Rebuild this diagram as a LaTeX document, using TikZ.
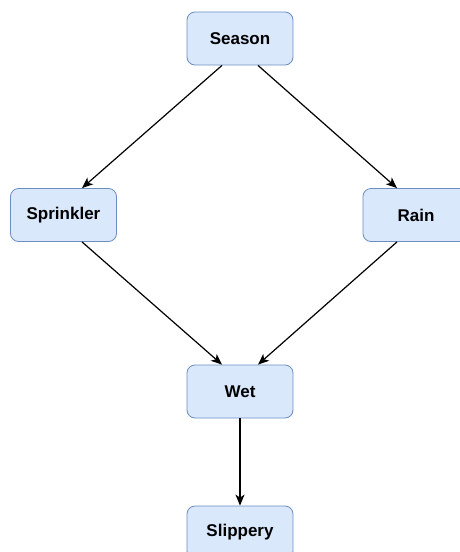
\documentclass[tikz,border=0pt]{standalone}
\usepackage{fontspec}
\setmainfont{Liberation Sans}
\usetikzlibrary{arrows.meta}
\definecolor{boxfill}{HTML}{DAE8FC}
\definecolor{boxline}{HTML}{6C8EBF}
\begin{document}
\begin{tikzpicture}[x=1pt,y=-1pt,
  stepbox/.style={draw=boxline, fill=boxfill, rounded corners=8pt, line width=0.8pt,
    minimum width=106pt, minimum height=53pt, inner sep=0pt,
    font=\fontsize{17}{20}\selectfont\bfseries},
  link/.style={line width=1.2pt, -{Stealth[length=11pt,width=9pt,inset=3pt]}}]
\useasboundingbox (0,0) rectangle (460,552);
\node[stepbox] (season) at (240,38.5) {Season};
\node[stepbox] (sprinkler) at (63.5,215) {Sprinkler};
\node[stepbox] (rain) at (416,215) {Rain};
\node[stepbox] (wet) at (240,391.5) {Wet};
\node[stepbox] (slippery) at (240,532.5) {Slippery};
\draw[link] (season.south) ++(-18,0) -- (sprinkler.north -| 82,0);
\draw[link] (season.south) ++(18,0) -- (rain.north -| 397,0);
\draw[link] (sprinkler.south -| 82,0) -- (wet.north -| 222,0);
\draw[link] (rain.south -| 397,0) -- (wet.north -| 258,0);
\draw[link] (wet) -- (slippery);
\end{tikzpicture}
\end{document}
